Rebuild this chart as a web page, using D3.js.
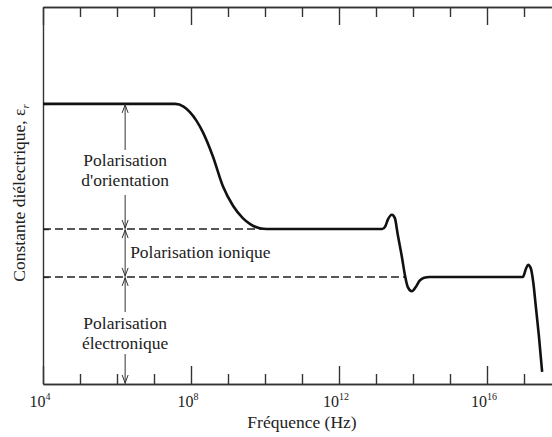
<!DOCTYPE html>
<html>
<head>
<meta charset="utf-8">
<script src="https://cdn.jsdelivr.net/npm/d3@7"></script>
<style>
  body { margin: 0; background: #fff; }
</style>
</head>
<body>
<svg id="chart" width="552" height="437" font-family="Liberation Serif, DejaVu Serif, serif"></svg>
<script>
// frequency exponents of the ticks (10^4 ... 10^17)
const tickExp = d3.range(4, 18)
const majorExp = [4, 8, 12, 16]

// curve: log10(frequency) and relative permittivity (arbitrary units)
const logF = [4.0, 7.57, 7.8, 7.97, 8.15, 8.32, 8.59, 8.86, 9.14, 9.4, 9.6, 9.86, 10.05,
  13.17, 13.25, 13.32, 13.43, 13.51, 13.59, 13.70, 13.78, 13.86, 13.97, 14.08, 14.18, 14.3, 14.45,
  16.97, 17.05, 17.11, 17.18, 17.25, 17.32, 17.40, 17.49]
const eps = [7.43, 7.43, 7.36, 7.21, 6.98, 6.68, 6.04, 5.25, 4.72, 4.40, 4.24, 4.13, 4.11,
  4.11, 4.18, 4.36, 4.49, 4.40, 3.95, 3.37, 2.90, 2.57, 2.46, 2.58, 2.74, 2.82, 2.84,
  2.84, 3.05, 3.16, 3.08, 2.70, 2.05, 1.30, 0.32]

// plateaus and the end of their dashed guides
const levels = [7.43, 4.11, 2.84]
const dashEnd = [10.0, 13.78]
const arrowExp = 6.22

var svg = d3.select('#chart')
var margin = {top: 7, left: 43, bottom: 384, right: 552}

var x = d3.scaleLog()
  .domain([1e4, Math.pow(10, 4 + (margin.right - margin.left) / 37)])
  .range([margin.left, margin.right])

var y = d3.scaleLinear()
  .domain([0, 10])
  .range([margin.bottom, margin.top])

var minorVals = tickExp.filter(e => majorExp.indexOf(e) < 0).map(e => Math.pow(10, e))
var majorVals = majorExp.map(e => Math.pow(10, e))

function styleAxis(g) {
  g.selectAll('path, line').attr('stroke', '#333').attr('stroke-width', 1.4)
  g.selectAll('text').remove()
}

// bottom axis, ticks pointing inward
svg.append('g').attr('transform', 'translate(0,' + margin.bottom + ')')
  .call(d3.axisBottom(x).tickValues(minorVals).tickSizeInner(-10).tickSizeOuter(0))
  .call(styleAxis)
svg.append('g').attr('transform', 'translate(0,' + margin.bottom + ')')
  .call(d3.axisBottom(x).tickValues(majorVals).tickSizeInner(-18).tickSizeOuter(0))
  .call(styleAxis)

// top axis
svg.append('g').attr('transform', 'translate(0,' + margin.top + ')')
  .call(d3.axisTop(x).tickValues(minorVals).tickSizeInner(-10).tickSizeOuter(0))
  .call(styleAxis)
svg.append('g').attr('transform', 'translate(0,' + margin.top + ')')
  .call(d3.axisTop(x).tickValues(majorVals).tickSizeInner(-18).tickSizeOuter(0))
  .call(styleAxis)

// left axis
svg.append('g').attr('transform', 'translate(' + margin.left + ',0)')
  .call(d3.axisLeft(y).tickValues(levels).tickSizeInner(-6).tickSizeOuter(0))
  .call(styleAxis)

// tick labels 10^n
var lab = svg.selectAll('.tlab')
  .data(majorExp)
  .enter().append('text')
  .attr('class', 'tlab')
  .attr('x', d => x(Math.pow(10, d)) - 3)
  .attr('y', margin.bottom + 23)
  .attr('text-anchor', 'middle')
  .attr('fill', '#222')
  .style('font-size', '16px')
lab.append('tspan').text('10')
lab.append('tspan').attr('dy', -7).style('font-size', '10px').text(d => d)

svg.append('text')
  .attr('x', 302).attr('y', 428)
  .attr('text-anchor', 'middle')
  .attr('fill', '#222')
  .style('font-size', '17.5px')
  .text('Fréquence (Hz)')

var yl = svg.append('text')
  .attr('transform', 'translate(25,193) rotate(-90)')
  .attr('text-anchor', 'middle')
  .attr('fill', '#222')
  .style('font-size', '17.5px')
yl.append('tspan').text('Constante diélectrique, ε')
yl.append('tspan').attr('dy', 4).style('font-size', '11px').style('font-style', 'italic').text('r')

// dashed guides
svg.selectAll('.guide')
  .data(dashEnd)
  .enter().append('line')
  .attr('x1', x(1e4))
  .attr('x2', d => x(Math.pow(10, d)))
  .attr('y1', (d, i) => y(levels[i + 1]))
  .attr('y2', (d, i) => y(levels[i + 1]))
  .attr('stroke', '#222')
  .attr('stroke-width', 1.4)
  .attr('stroke-dasharray', '8,4')

// permittivity curve
var line = d3.line()
  .x(d => x(Math.pow(10, d[0])))
  .y(d => y(d[1]))
  .curve(d3.curveMonotoneX)

svg.append('path')
  .datum(d3.zip(logF, eps))
  .attr('d', line)
  .attr('fill', 'none')
  .attr('stroke', '#111')
  .attr('stroke-width', 2.6)
  .attr('stroke-linejoin', 'round')

// dimension arrows
var ax = x(Math.pow(10, arrowExp))
var arrows = [
  [y(levels[0]), 150, 'up'],
  [195, y(levels[1]), 'down'],
  [y(levels[1]), y(levels[2]), 'both'],
  [y(levels[2]), 312, 'up'],
  [354, y(0), 'down']
]

function head(yy, dir) {
  var s = dir === 'up' ? 1 : -1
  svg.append('path')
    .attr('d', 'M' + (ax - 3) + ',' + (yy + s * 8) + 'L' + ax + ',' + yy + 'L' + (ax + 3) + ',' + (yy + s * 8))
    .attr('fill', 'none')
    .attr('stroke', '#333')
    .attr('stroke-width', 1)
}

arrows.forEach(function(a) {
  svg.append('line')
    .attr('x1', ax).attr('x2', ax)
    .attr('y1', a[0]).attr('y2', a[1])
    .attr('stroke', '#333')
    .attr('stroke-width', 1)
  if (a[2] === 'up' || a[2] === 'both') head(a[0] + 1, 'up')
  if (a[2] === 'down' || a[2] === 'both') head(a[1] - 1, 'down')
})

function note(lines, xx, yy, anchor) {
  var t = svg.append('text')
    .attr('text-anchor', anchor)
    .attr('fill', '#222')
    .style('font-size', '17.5px')
  lines.forEach(function(s, i) {
    t.append('tspan').attr('x', xx).attr('y', yy + i * 19.5).text(s)
  })
}

note(['Polarisation', "d'orientation"], ax, 166, 'middle')
note(['Polarisation ionique'], ax + 5, 258, 'start')
note(['Polarisation', 'électronique'], ax, 329, 'middle')
</script>
</body>
</html>
